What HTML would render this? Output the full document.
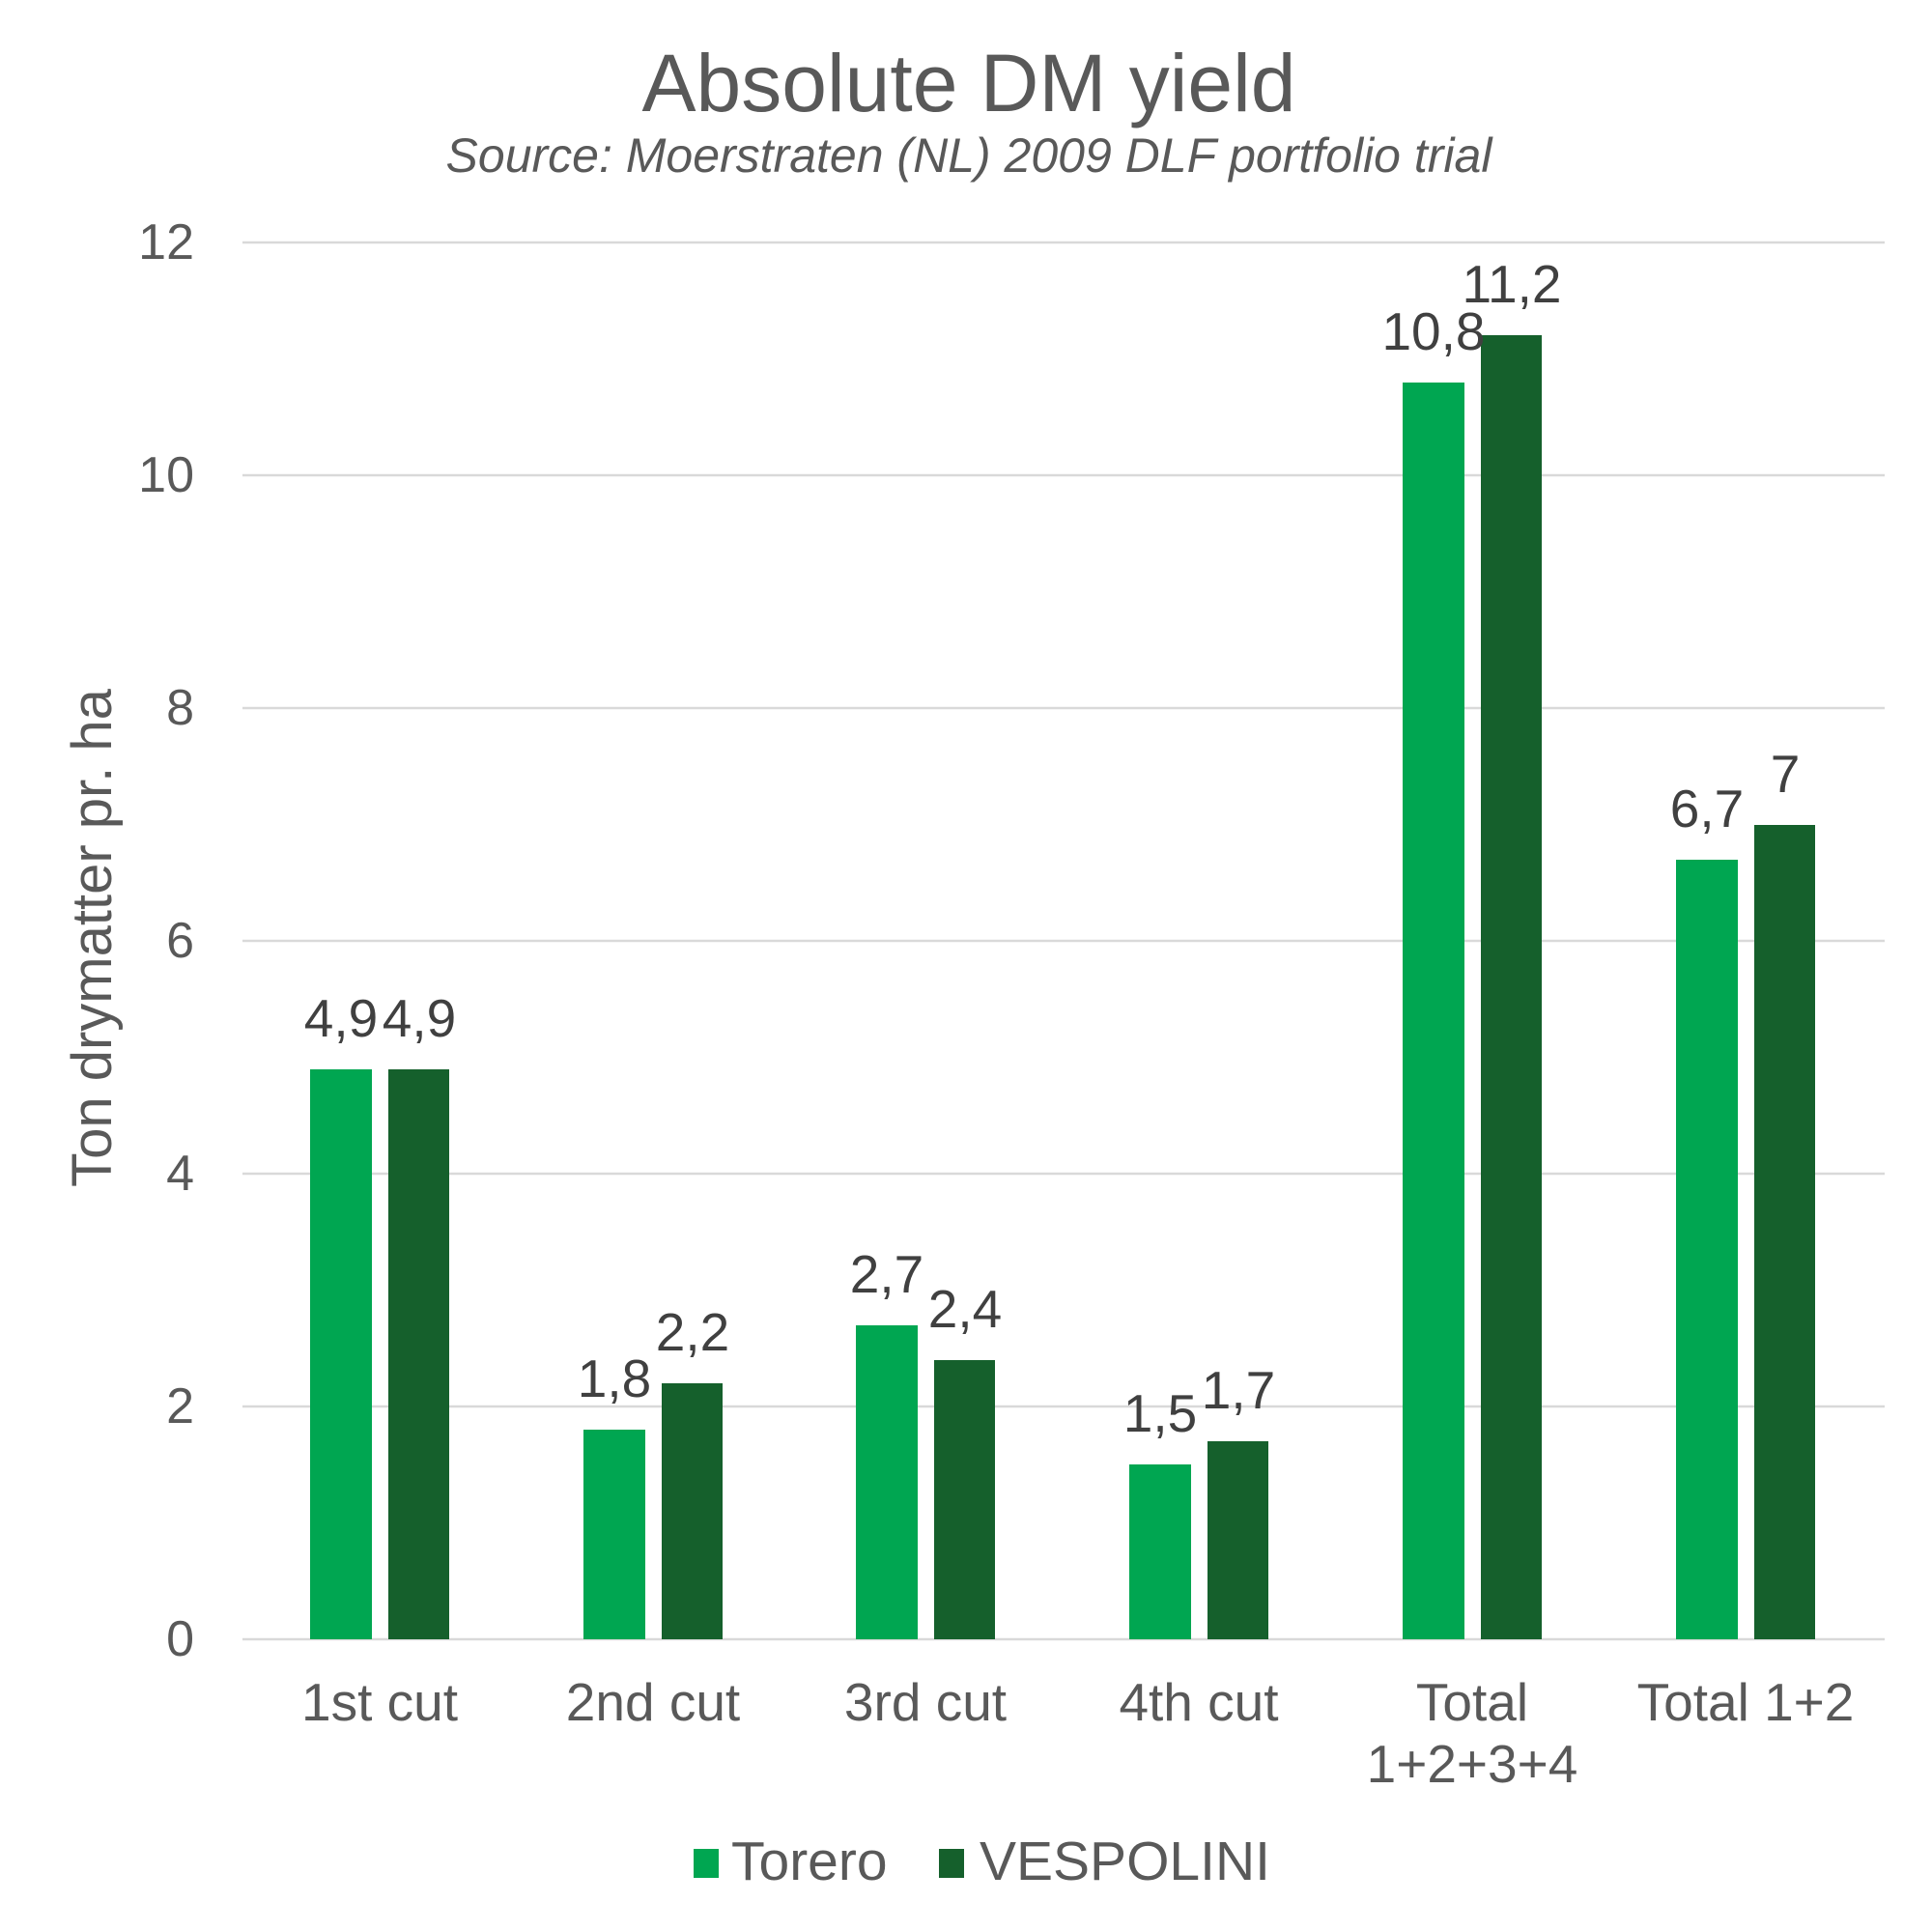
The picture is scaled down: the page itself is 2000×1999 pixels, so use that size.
<!DOCTYPE html>
<html><head><meta charset="utf-8"><style>html,body{margin:0;padding:0;background:#fff}svg{display:block}</style></head>
<body>
<svg width="2000" height="1999" viewBox="0 0 2000 1999" xmlns="http://www.w3.org/2000/svg" font-family="Liberation Sans, Arial, sans-serif">
<rect width="2000" height="1999" fill="#fff"/>
<text x="1003" y="115" font-size="84" fill="#595959" text-anchor="middle">Absolute DM yield</text>
<text x="1003" y="178" font-size="50" fill="#595959" text-anchor="middle" font-style="italic">Source: Moerstraten (NL) 2009 DLF portfolio trial</text>
<g stroke="#d9d9d9" stroke-width="2.5">
<line x1="251" x2="1951" y1="251" y2="251"/>
<line x1="251" x2="1951" y1="492" y2="492"/>
<line x1="251" x2="1951" y1="733" y2="733"/>
<line x1="251" x2="1951" y1="974" y2="974"/>
<line x1="251" x2="1951" y1="1215" y2="1215"/>
<line x1="251" x2="1951" y1="1456" y2="1456"/>
<line x1="251" x2="1951" y1="1697" y2="1697"/>
</g>
<g font-size="52" fill="#595959" text-anchor="end">
<text x="201" y="268">12</text>
<text x="201" y="509">10</text>
<text x="201" y="750">8</text>
<text x="201" y="991">6</text>
<text x="201" y="1232">4</text>
<text x="201" y="1473">2</text>
<text x="201" y="1714">0</text>
</g>
<text transform="translate(115,971) rotate(-90)" font-size="58" fill="#595959" text-anchor="middle">Ton drymatter pr. ha</text>
<g>
<rect x="321" y="1107" width="64" height="590" fill="#00A651"/>
<rect x="402" y="1107" width="63" height="590" fill="#15602C"/>
<rect x="604" y="1480" width="64" height="217" fill="#00A651"/>
<rect x="685" y="1432" width="63" height="265" fill="#15602C"/>
<rect x="886" y="1372" width="64" height="325" fill="#00A651"/>
<rect x="967" y="1408" width="63" height="289" fill="#15602C"/>
<rect x="1169" y="1516" width="64" height="181" fill="#00A651"/>
<rect x="1250" y="1492" width="63" height="205" fill="#15602C"/>
<rect x="1452" y="396" width="64" height="1301" fill="#00A651"/>
<rect x="1533" y="347" width="63" height="1350" fill="#15602C"/>
<rect x="1735" y="890" width="64" height="807" fill="#00A651"/>
<rect x="1816" y="854" width="63" height="843" fill="#15602C"/>
</g>
<g font-size="55" fill="#404040" text-anchor="middle">
<text x="353" y="1073">4,9</text>
<text x="434" y="1073">4,9</text>
<text x="636" y="1446">1,8</text>
<text x="717" y="1398">2,2</text>
<text x="918" y="1338">2,7</text>
<text x="999" y="1374">2,4</text>
<text x="1201" y="1482">1,5</text>
<text x="1282" y="1458">1,7</text>
<text x="1484" y="362">10,8</text>
<text x="1565" y="313">11,2</text>
<text x="1767" y="856">6,7</text>
<text x="1848" y="820">7</text>
</g>
<g font-size="55" fill="#595959" text-anchor="middle">
<text x="393" y="1781">1st cut</text>
<text x="676" y="1781">2nd cut</text>
<text x="958" y="1781">3rd cut</text>
<text x="1241" y="1781">4th cut</text>
<text x="1524" y="1781">Total</text>
<text x="1524" y="1845">1+2+3+4</text>
<text x="1807" y="1781">Total 1+2</text>
</g>
<rect x="718" y="1914" width="26" height="30" fill="#00A651"/>
<text x="757" y="1946" font-size="57" fill="#595959">Torero</text>
<rect x="972" y="1914" width="26" height="30" fill="#15602C"/>
<text x="1014" y="1946" font-size="57" fill="#595959">VESPOLINI</text>
</svg>
</body></html>
